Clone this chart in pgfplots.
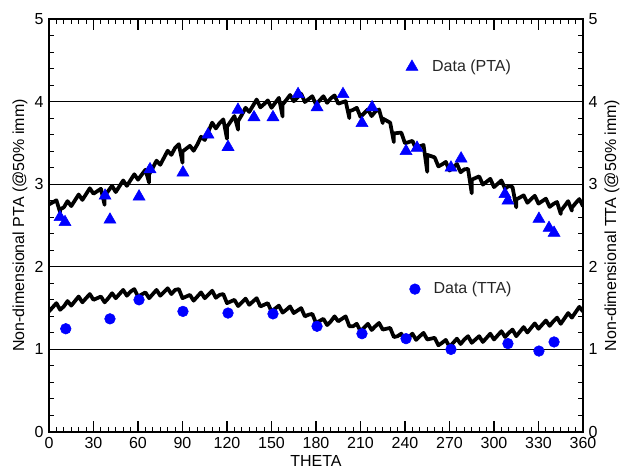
\documentclass[border=0pt]{standalone}
\usepackage{fontspec}
\setmainfont{Liberation Sans}
\usepackage{pgfplots}
\pgfplotsset{compat=1.18}
\definecolor{mblue}{RGB}{0,0,255}
\begin{document}
\fontsize{12}{14.4}\selectfont
\begin{tikzpicture}
\begin{axis}[
  at={(0,0)}, anchor=south west, scale only axis,
  width=400.5pt, height=309.75pt,
  xmin=0, xmax=360, ymin=0, ymax=5,
  xtick={0,30,...,360}, ytick={0,1,...,5},
  minor x tick num=5, minor y tick num=4,
  tick align=inside,
  major tick length=8pt, minor tick length=4pt,
  every tick/.append style={black, line width=0.8pt},
  axis line style={line width=1pt},
  ymajorgrids, major grid style={black, line width=0.8pt},
  /pgf/number format/assume math mode=true,
  ticklabel style={font=\fontsize{12}{14.4}\selectfont},
  xlabel={THETA}, ylabel={Non-dimensional PTA (@50\% imm)},
  every axis x label/.style={at={(axis description cs:0.5,-0.0702)}, anchor=center, font=\fontsize{12}{14.4}\selectfont},
  every axis y label/.style={at={(axis description cs:-0.0543,0.5)}, rotate=90, anchor=center, font=\fontsize{12}{14.4}\selectfont},
]
% PTA model line
\addplot[black, line width=2.8pt, line join=round, line cap=round] coordinates {
(0,2.755)(2.5,2.78)(5,2.805)(7.5,2.66)(7.5,2.695)(10,2.72)(12.5,2.795)(15,2.735)(17.5,2.805)(20,2.875)
(22.5,2.81)(25,2.88)(27.5,2.95)(30,2.885)(32.5,2.915)(35,2.945)(37.5,2.75)(37.5,2.865)(40,2.92)(42.5,2.98)
(45,2.905)(47.5,2.975)(50,3.045)(52.5,2.98)(55,3.05)(57.5,3.12)(60,3.055)(62.5,3.115)(65,3.175)(67.5,3.02)(67.5,3.12)
(70,3.20)(72.5,3.285)(75,3.235)(77.5,3.32)(80,3.405)(82.5,3.355)(85,3.44)(87.5,3.485)(90,3.26)(90,3.395)
(92.5,3.43)(95,3.465)(97.5,3.405)(100,3.48)(102.5,3.575)(105,3.535)(107.5,3.64)(110,3.745)(112.5,3.675)
(115,3.74)(117.5,3.785)(120,3.55)(120,3.695)(122.5,3.76)(125,3.825)(127.5,3.66)(127.5,3.765)(130,3.84)
(132.5,3.925)(135,3.875)(137.5,3.95)(140,4.025)(142.5,3.93)(145,3.97)(147.5,4.015)(150,3.925)(152.5,3.985)
(155,4.045)(157.5,3.82)(157.5,3.965)(160,4.02)(162.5,4.08)(165,4.005)(167.5,4.05)(170,4.095)(172.5,3.995)
(175,4.03)(177.5,4.065)(180,3.965)(182.5,4.015)(185,4.065)(187.5,3.985)(190,4.04)(192.5,4.075)(195,3.975)
(197.5,3.99)(200,4.005)(202.5,3.80)(202.5,3.885)(205,3.90)(207.5,3.925)(210,3.815)(212.5,3.86)(215,3.905)
(217.5,3.825)(220,3.88)(222.5,3.905)(225,3.74)(225,3.795)(227.5,3.77)(230,3.745)(232.5,3.51)(232.5,3.615)
(235,3.62)(237.5,3.625)(240,3.495)(242.5,3.51)(245,3.525)(247.5,3.425)(250,3.46)(252.5,3.475)(255,3.15)(255,3.355)
(257.5,3.34)(260,3.325)(262.5,3.215)(265,3.24)(267.5,3.27)(270,3.165)(272.5,3.205)(275,3.245)(277.5,3.145)
(280,3.18)(282.5,3.185)(285,2.89)(285,3.055)(287.5,3.075)(290,3.095)(292.5,2.995)(295,3.03)(297.5,3.065)
(300,2.965)(302.5,3.005)(305,3.045)(307.5,2.945)(310,2.98)(312.5,2.965)(315,2.72)(315,2.815)(317.5,2.84)
(320,2.865)(322.5,2.775)(325,2.82)(327.5,2.86)(330,2.765)(332.5,2.795)(335,2.825)(337.5,2.725)(340,2.76)
(342.5,2.785)(345,2.64)(345,2.675)(347.5,2.735)(350,2.795)(352.5,2.68)(352.5,2.715)(355,2.77)(357.5,2.82)(360,2.735)
};
% TTA model line
\addplot[black, line width=2.8pt, line join=round, line cap=round] coordinates {
(0,1.46)(2.5,1.51)(5,1.56)(7.5,1.48)(10,1.52)(12.5,1.585)(15,1.53)(17.5,1.585)(20,1.64)(22.5,1.57)
(25,1.62)(27.5,1.67)(30,1.60)(32.5,1.62)(35,1.64)(37.5,1.57)(40,1.62)(42.5,1.68)(45,1.62)(47.5,1.67)
(50,1.72)(52.5,1.65)(55,1.70)(57.5,1.73)(60,1.64)(62.5,1.665)(65,1.69)(67.5,1.62)(70,1.67)(72.5,1.72)
(75,1.65)(77.5,1.695)(80,1.74)(82.5,1.67)(85,1.72)(87.5,1.73)(90,1.62)(92.5,1.64)(95,1.66)(97.5,1.59)
(100,1.64)(102.5,1.69)(105,1.62)(107.5,1.665)(110,1.71)(112.5,1.625)(115,1.66)(117.5,1.67)(120,1.56)(122.5,1.58)
(125,1.60)(127.5,1.525)(130,1.57)(132.5,1.615)(135,1.54)(137.5,1.58)(140,1.62)(142.5,1.52)(145,1.54)(147.5,1.56)
(150,1.46)(152.5,1.495)(155,1.53)(157.5,1.445)(160,1.48)(162.5,1.52)(165,1.44)(167.5,1.47)(170,1.50)(172.5,1.40)
(175,1.42)(177.5,1.43)(180,1.32)(182.5,1.345)(185,1.37)(187.5,1.295)(190,1.34)(192.5,1.40)(195,1.34)(197.5,1.37)
(200,1.40)(202.5,1.28)(205,1.28)(207.5,1.31)(210,1.22)(212.5,1.265)(215,1.31)(217.5,1.235)(220,1.28)(222.5,1.32)
(225,1.24)(227.5,1.25)(230,1.26)(232.5,1.15)(235,1.16)(237.5,1.19)(240,1.10)(242.5,1.145)(245,1.19)(247.5,1.115)
(250,1.16)(252.5,1.20)(255,1.12)(257.5,1.13)(260,1.14)(262.5,1.05)(265,1.08)(267.5,1.115)(270,1.03)(272.5,1.08)
(275,1.13)(277.5,1.065)(280,1.12)(282.5,1.16)(285,1.08)(287.5,1.12)(290,1.16)(292.5,1.09)(295,1.14)(297.5,1.19)
(300,1.12)(302.5,1.17)(305,1.22)(307.5,1.15)(310,1.20)(312.5,1.24)(315,1.16)(317.5,1.215)(320,1.27)(322.5,1.205)
(325,1.26)(327.5,1.315)(330,1.25)(332.5,1.30)(335,1.35)(337.5,1.285)(340,1.34)(342.5,1.385)(345,1.31)(347.5,1.375)
(350,1.44)(352.5,1.385)(355,1.45)(357.5,1.515)(360,1.46)
};
% PTA data
\addplot[only marks, mark=triangle*, mark size=5.2pt, mblue, mark options={draw=mblue, fill=mblue}] coordinates {
(7.4,2.60)(10.8,2.54)(37.8,2.86)(41.1,2.57)(60.7,2.85)(68.1,3.18)(90.3,3.14)(107.2,3.60)(120.7,3.45)
(127.4,3.90)(138.2,3.81)(151.0,3.81)(167.9,4.09)(180.7,3.93)(198.2,4.09)(211.0,3.74)(217.8,3.93)
(240.7,3.40)(248.1,3.44)(271.0,3.20)(277.8,3.31)(307.4,2.88)(309.4,2.80)(330.3,2.58)(337.1,2.47)(340.5,2.41)
};
% TTA data
\addplot[only marks, mark=*, mark size=4pt, mblue, mark options={draw=mblue, fill=mblue}] coordinates {
(11.3,1.25)(41.1,1.37)(60.7,1.60)(90.3,1.46)(120.7,1.44)(151.0,1.43)(180.7,1.28)
(211.0,1.19)(240.7,1.13)(271.0,1.00)(309.4,1.07)(330.3,0.98)(340.5,1.09)
};
% key entries
\addplot[only marks, mark=triangle*, mark size=5.2pt, mblue, mark options={draw=mblue, fill=mblue}] coordinates {(244.7,4.42)};
\node[anchor=west, text=black!85, font=\fontsize{12}{14.4}\selectfont] at (axis cs:254.5,4.42) {Data (PTA)};
\addplot[only marks, mark=*, mark size=4pt, mblue, mark options={draw=mblue, fill=mblue}] coordinates {(246.7,1.73)};
\node[anchor=west, text=black!85, font=\fontsize{12}{14.4}\selectfont] at (axis cs:255.5,1.73) {Data (TTA)};
\end{axis}
\begin{axis}[
  at={(0,0)}, anchor=south west, scale only axis,
  width=400.5pt, height=309.75pt,
  xmin=0, xmax=360, ymin=0, ymax=5,
  hide x axis, axis y line*=right,
  axis line style={draw=none},
  ytick={0,1,...,5}, major tick length=0pt, minor tick num=0,
  /pgf/number format/assume math mode=true,
  ticklabel style={font=\fontsize{12}{14.4}\selectfont},
  ylabel={Non-dimensional TTA (@50\% imm)},
  every axis y label/.style={at={(axis description cs:1.0543,0.5)}, rotate=90, anchor=center, font=\fontsize{12}{14.4}\selectfont},
]
\addplot[draw=none] coordinates {(0,0)};
\end{axis}
\pgfresetboundingbox
\useasboundingbox (-36.75pt,-27pt) rectangle (429pt,324pt);
\end{tikzpicture}
\end{document}
